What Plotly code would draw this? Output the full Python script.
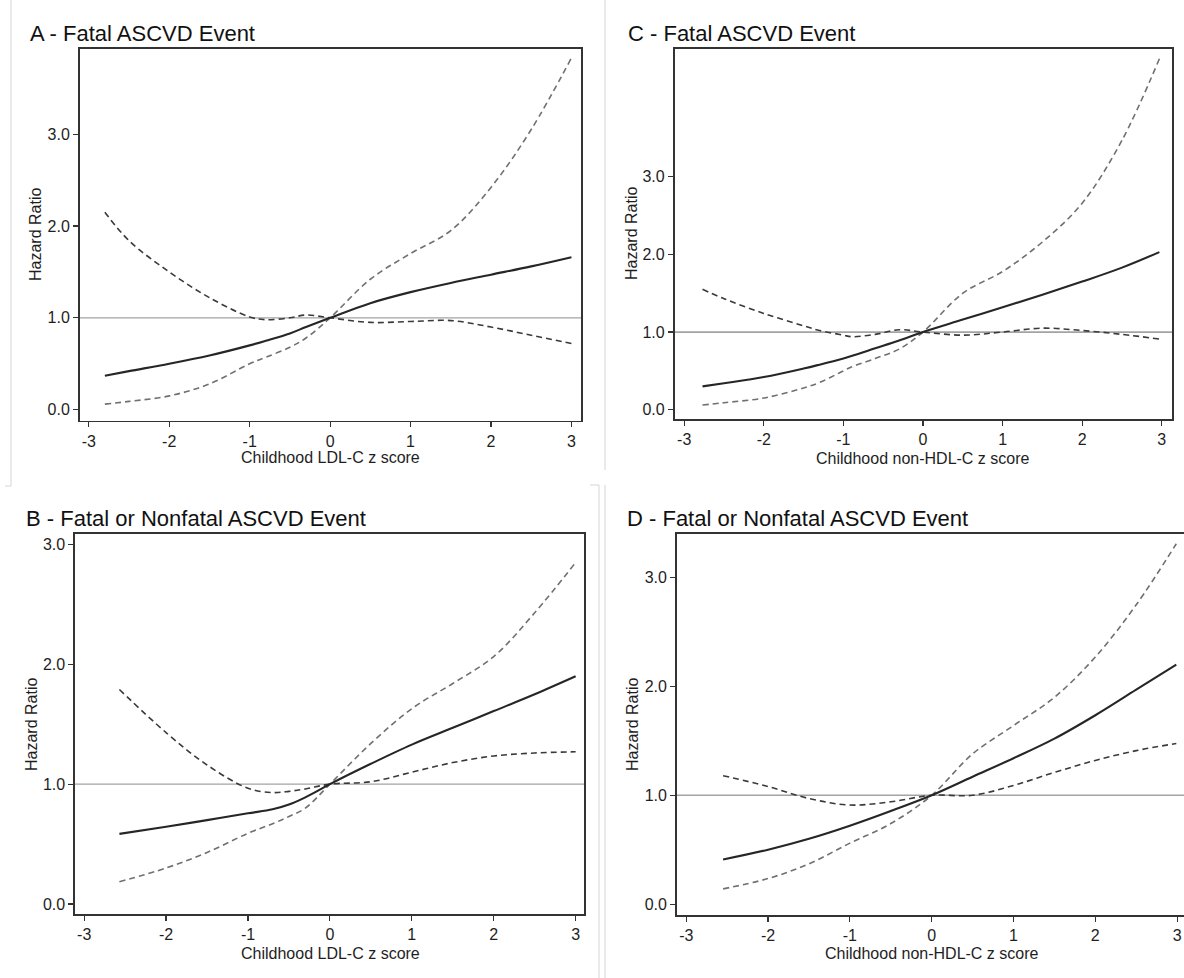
import plotly.graph_objects as go

# ---------------- data ----------------
A_x = [-2.8, -2.5, -2.0, -1.5, -1.0, -0.8, -0.5, -0.3, 0.0, 0.5, 1.0, 1.5, 2.0, 2.5, 3.0]
A_hr = [0.37, 0.42, 0.50, 0.59, 0.70, 0.75, 0.83, 0.90, 1.00, 1.16, 1.28, 1.38, 1.47, 1.56, 1.66]
A_ci1 = [2.15, 1.84, 1.50, 1.22, 1.01, 0.98, 1.00, 1.03, 1.00, 0.95, 0.96, 0.97, 0.90, 0.81, 0.72]
A_ci2 = [0.06, 0.09, 0.15, 0.28, 0.50, 0.57, 0.68, 0.78, 1.00, 1.42, 1.70, 1.95, 2.42, 3.05, 3.83]

B_x = [-2.57, -2.0, -1.5, -1.0, -0.7, -0.5, -0.3, 0.0, 0.5, 1.0, 1.5, 2.0, 2.5, 3.0]
B_hr = [0.585, 0.645, 0.70, 0.757, 0.79, 0.83, 0.89, 1.00, 1.17, 1.33, 1.47, 1.61, 1.75, 1.90]
B_ci1 = [1.79, 1.43, 1.16, 0.966, 0.93, 0.94, 0.96, 1.00, 1.02, 1.10, 1.18, 1.235, 1.26, 1.27]
B_ci2 = [0.186, 0.30, 0.43, 0.59, 0.67, 0.73, 0.80, 1.00, 1.34, 1.63, 1.84, 2.065, 2.43, 2.85]

C_x = [-2.77, -2.5, -2.0, -1.5, -1.3, -1.0, -0.9, -0.6, -0.3, 0.0, 0.5, 1.0, 1.5, 2.0, 2.5, 2.97]
C_hr = [0.30, 0.34, 0.42, 0.53, 0.58, 0.66, 0.69, 0.79, 0.89, 1.00, 1.16, 1.32, 1.48, 1.65, 1.83, 2.03]
C_ci1 = [1.55, 1.43, 1.24, 1.08, 1.02, 0.96, 0.94, 0.97, 1.03, 1.00, 0.96, 1.00, 1.05, 1.02, 0.97, 0.91]
C_ci2 = [0.06, 0.09, 0.15, 0.28, 0.35, 0.50, 0.55, 0.66, 0.78, 1.00, 1.50, 1.78, 2.16, 2.66, 3.47, 4.52]

D_x = [-2.55, -2.0, -1.5, -1.0, -0.5, 0.0, 0.5, 1.0, 1.5, 2.0, 2.5, 2.99]
D_hr = [0.41, 0.50, 0.60, 0.72, 0.855, 1.00, 1.17, 1.34, 1.52, 1.735, 1.97, 2.20]
D_ci1 = [1.18, 1.08, 0.97, 0.91, 0.94, 1.00, 1.00, 1.09, 1.21, 1.32, 1.41, 1.475]
D_ci2 = [0.14, 0.235, 0.37, 0.56, 0.74, 1.00, 1.38, 1.64, 1.90, 2.27, 2.75, 3.31]

titles = ["A - Fatal ASCVD Event", "B - Fatal or Nonfatal ASCVD Event",
          "C - Fatal ASCVD Event", "D - Fatal or Nonfatal ASCVD Event"]
x_titles = ["Childhood LDL-C z score", "Childhood LDL-C z score",
            "Childhood non-HDL-C z score", "Childhood non-HDL-C z score"]
y_title = "Hazard Ratio"
x_ticks = [-3, -2, -1, 0, 1, 2, 3]
y_ticks = [0, 1, 2, 3]
y_ticklabels = ["0.0", "1.0", "2.0", "3.0"]
REF_HR = 1.0

# ---------------- layout ----------------
W, H = 1184, 978
FONT = "Liberation Sans, Arial, sans-serif"


def px_x(p):
    return p / W


def px_y(p):
    return 1 - p / H


panels = [
    dict(x=A_x, hr=A_hr, c1=A_ci1, c2=A_ci2, box=(79.6, 581, 48.7, 420.7),
         xr=[-3.114, 3.119], yr=[-0.12, 3.93], right=True, refw=1.3,
         title_pos=(28, 33), ytitle_pos=(36, 235), xtitle=(330, 457)),
    dict(x=B_x, hr=B_hr, c1=B_ci1, c2=B_ci2, box=(75, 584.4, 533.7, 914.3),
         xr=[-3.112, 3.107], yr=[-0.086, 3.09], right=True, refw=1.3,
         title_pos=(24, 518), ytitle_pos=(31, 725), xtitle=(330, 953)),
    dict(x=C_x, hr=C_hr, c1=C_ci1, c2=C_ci2, box=(674.5, 1172.2, 48.7, 419.3),
         xr=[-3.122, 3.131], yr=[-0.124, 4.65], right=True, refw=1.8,
         title_pos=(626, 33), ytitle_pos=(632, 234), xtitle=(923, 458)),
    dict(x=D_x, hr=D_hr, c1=D_ci1, c2=D_ci2, box=(676.7, 1184, 534, 915),
         xr=[-3.117, 3.084], yr=[-0.10, 3.40], right=False, refw=1.3,
         title_pos=(625, 518), ytitle_pos=(632, 725), xtitle=(932, 953)),
]

fig = go.Figure()
annotations = []
shapes = []

DARK = "#262626"
CI1_COL = "#3a3a3a"
CI2_COL = "#707070"
DASH = "6px,4px"

for i, p in enumerate(panels):
    n = i + 1
    xa = "x" if n == 1 else f"x{n}"
    ya = "y" if n == 1 else f"y{n}"
    left, right, top, bottom = p["box"]

    shapes.append(dict(type="line", xref=f"{xa} domain", yref=ya, x0=0, x1=1,
                       y0=REF_HR, y1=REF_HR, line=dict(color="#a3a3a3", width=p["refw"]),
                       layer="below"))

    fig.add_trace(go.Scatter(x=p["x"], y=p["c1"], xaxis=xa, yaxis=ya, mode="lines",
                             line=dict(color=CI1_COL, width=1.6, dash=DASH, shape="spline",
                                       smoothing=1.0), showlegend=False, hoverinfo="skip"))
    fig.add_trace(go.Scatter(x=p["x"], y=p["c2"], xaxis=xa, yaxis=ya, mode="lines",
                             line=dict(color=CI2_COL, width=1.6, dash=DASH, shape="spline",
                                       smoothing=1.0), showlegend=False, hoverinfo="skip"))
    fig.add_trace(go.Scatter(x=p["x"], y=p["hr"], xaxis=xa, yaxis=ya, mode="lines",
                             line=dict(color=DARK, width=2.1, shape="spline", smoothing=1.0),
                             showlegend=False, hoverinfo="skip"))

    axis_common = dict(showgrid=False, zeroline=False, showline=True, linecolor="#333333",
                       linewidth=1.6, ticks="outside", ticklen=5, tickwidth=1.2,
                       tickcolor="#333333", ticklabeloverflow="allow",
                       tickfont=dict(family=FONT, size=16, color="#1e1e1e"))
    fig.layout[("xaxis" if n == 1 else f"xaxis{n}")] = dict(
        domain=[max(0, px_x(left)), min(1, px_x(right))], range=p["xr"], anchor=ya,
        tickmode="array", tickvals=x_ticks, ticktext=[str(t) for t in x_ticks],
        mirror=True, **axis_common)
    fig.layout[("yaxis" if n == 1 else f"yaxis{n}")] = dict(
        domain=[px_y(bottom), px_y(top)], range=p["yr"], anchor=xa,
        tickmode="array", tickvals=y_ticks, ticktext=y_ticklabels,
        mirror=p["right"], **axis_common)

    tx, ty = p["title_pos"]
    annotations.append(dict(text=titles[i], xref="paper", yref="paper", x=px_x(tx), y=px_y(ty),
                            xanchor="left", yanchor="middle", showarrow=False,
                            font=dict(family=FONT, size=22, color="#111111")))
    yx, yy = p["ytitle_pos"]
    annotations.append(dict(text=y_title, xref="paper", yref="paper", x=px_x(yx), y=px_y(yy),
                            xanchor="center", yanchor="middle", textangle=-90, showarrow=False,
                            font=dict(family=FONT, size=16, color="#1e1e1e")))
    cx, cy = p["xtitle"]
    annotations.append(dict(text=x_titles[i], xref="paper", yref="paper", x=px_x(cx),
                            y=px_y(cy), xanchor="center", yanchor="middle",
                            showarrow=False, font=dict(family=FONT, size=16, color="#1e1e1e")))

# faint screenshot frame lines present in the reference
frame = [
    (11, 0, 11, 486), (5, 486, 11, 486),
    (605, 0, 605, 470),
    (590, 485, 599, 485), (599, 485, 599, 978),
    (605, 485, 605, 978),
]
for (x0, y0, x1, y1) in frame:
    shapes.append(dict(type="line", xref="paper", yref="paper", x0=px_x(x0), y0=px_y(y0),
                       x1=px_x(x1), y1=px_y(y1), line=dict(color="#d4d4d4", width=1)))

fig.update_layout(width=W, height=H, margin=dict(l=0, r=0, t=0, b=0),
                  paper_bgcolor="white", plot_bgcolor="white",
                  annotations=annotations, shapes=shapes, showlegend=False)

fig.write_html("out.html",
               config={"displayModeBar": False, "staticPlot": True},
               post_script="document.body.style.margin='0';document.body.style.overflow='hidden';")
